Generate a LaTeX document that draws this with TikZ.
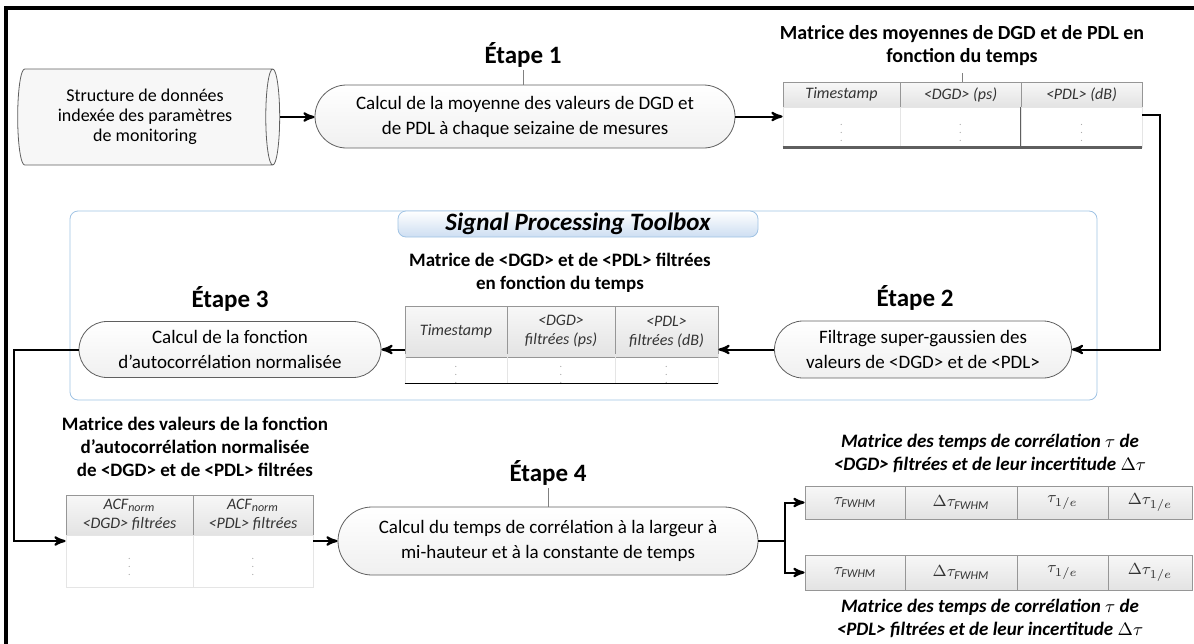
\documentclass[tikz,border=0pt]{standalone}
\usepackage{fontspec}
\setmainfont{Carlito}
\usepackage{tikz}
\usetikzlibrary{arrows}
\usetikzlibrary{shapes.geometric,shapes.misc}
\definecolor{boxline}{RGB}{95,95,95}
\definecolor{cellline}{RGB}{150,150,150}
\definecolor{tbxline}{RGB}{160,195,228}
\definecolor{tbxfill}{RGB}{205,222,242}
\tikzset{
  etape/.style={rounded rectangle, draw=boxline, top color=white, bottom color=gray!12, align=center, inner sep=0pt, font=\fontsize{9.5}{12.5}\selectfont},
  etapelabel/.style={font=\fontsize{12.5}{14}\selectfont\bfseries, inner sep=1pt},
  matlabel/.style={align=center, font=\fontsize{9.5}{11.5}\selectfont\bfseries},
  hcell/.style={draw=cellline, top color=gray!6, bottom color=gray!22, inner sep=0pt, align=center, font=\fontsize{8}{9.5}\selectfont\itshape, text=black!80},
  dcell/.style={draw=gray!20, inner sep=0pt, text=gray!70, font=\tiny},
  tabbox/.style={inner sep=0pt},
  arr/.style={line width=1pt, ->, >=stealth'}
}

\begin{document}
\begin{tikzpicture}[x=.5pt, y=-.5pt]
\useasboundingbox (0,0) rectangle (1194,643);
\draw[line width=2pt] (6,700) -- (6,8) -- (1260,8);

\node[draw=tbxline, rounded corners=4pt, minimum width=513.5pt, minimum height=94.5pt] (tbx) at (583.5,305.5) {};
\node[draw=tbxline, rounded corners=4pt, top color=white, bottom color=tbxfill, minimum width=180pt, minimum height=13pt, inner sep=0pt, font=\fontsize{12.5}{13}\selectfont\bfseries\itshape] (tbxtab) at (578,224) {Signal Processing Toolbox};

\node[cylinder, aspect=.25, draw=boxline, fill=gray!6, minimum width=48pt, minimum height=131pt, align=center, inner sep=0pt, font=\fontsize{9}{10}\selectfont] (src) at (145,117) {Structure de données\\indexée des paramètres\\de monitoring};

\node[etape, minimum width=210pt, minimum height=31.5pt] (e1) at (525,116.5) {Calcul de la moyenne des valeurs de DGD et\\de PDL à chaque seizaine de mesures};
\node[etapelabel] (lab1) at (523,55) {Étape 1};
\draw[gray] (lab1.south) -- (lab1.south |- e1.north);

\node[tabbox, minimum width=179.5pt, minimum height=32.5pt] (tab1) at (962.5,114.5) {};
\node[hcell, minimum width=58.5pt, minimum height=12.5pt] (t1h1) at (841.5,94.5) {Timestamp};
\node[hcell, minimum width=60.5pt, minimum height=12.5pt] (t1h2) at (960.5,94.5) {<DGD> (ps)};
\node[hcell, minimum width=60.5pt, minimum height=12.5pt] (t1h3) at (1081.5,94.5) {<PDL> (dB)};
\foreach \cx/\cw [count=\i] in {841.5/58.5pt,960.5/60.5pt,1081.5/60.5pt}
  \node[dcell, minimum width=\cw, minimum height=20pt] (t1d\i) at (\cx,127) {$\vdots$};
\draw[boxline, line width=.8pt] (t1d3.north west) -- (t1d3.south west);
\draw[boxline, line width=1.4pt] (tab1.south west) -- (tab1.south east);
\node[matlabel, font=\fontsize{10}{11.5}\selectfont\bfseries] (mat1) at (962,46) {Matrice des moyennes de DGD et de PDL en\\fonction du temps};
\draw[gray] (mat1.south) -- (mat1.south |- tab1.north);

\node[etape, minimum width=148.5pt, minimum height=28.5pt] (e2) at (923,349.5) {Filtrage super-gaussien des\\valeurs de <DGD> et de <PDL>};
\node[etapelabel] (lab2) at (915,298) {Étape 2};

\node[tabbox, minimum width=156.5pt, minimum height=37pt] (tab2) at (561.5,343) {};
\node[hcell, minimum width=51pt, minimum height=25.5pt] (t2h1) at (456,331.5) {Timestamp};
\node[hcell, minimum width=54pt, minimum height=25.5pt] (t2h2) at (561,331.5) {<DGD>\\filtrées (ps)};
\node[hcell, minimum width=51.5pt, minimum height=25.5pt] (t2h3) at (666.5,331.5) {<PDL>\\filtrées (dB)};
\foreach \cx/\cw [count=\i] in {456/51pt,561/54pt,666.5/51.5pt}
  \node[dcell, minimum width=\cw, minimum height=11.5pt] (t2d\i) at (\cx,368.5) {$\vdots$};
\draw[black, line width=.7pt] ([yshift=-1.5pt]tab2.south west) -- ([yshift=-1.5pt]tab2.south east);
\node[matlabel] (mat2) at (560,273) {Matrice de <DGD> et de <PDL> filtrées\\en fonction du temps};

\node[etape, minimum width=151pt, minimum height=28pt] (e3) at (230,349.5) {Calcul de la fonction\\d'autocorrélation normalisée};
\node[etapelabel] (lab3) at (230,299) {Étape 3};

\node[tabbox, minimum width=123.5pt, minimum height=46pt] (tab3) at (189.5,541) {};
\node[hcell, minimum width=63.5pt, minimum height=20pt] (t3h1) at (129.5,515) {ACF\textsubscript{norm}\\<DGD> filtrées};
\node[hcell, minimum width=60pt, minimum height=20pt] (t3h2) at (253,515) {ACF\textsubscript{norm}\\<PDL> filtrées};
\node[dcell, minimum width=63.5pt, minimum height=26pt] (t3d1) at (129.5,561) {$\vdots$};
\node[dcell, minimum width=60pt, minimum height=26pt] (t3d2) at (253,561) {$\vdots$};
\node[matlabel] (mat3) at (195,447) {Matrice des valeurs de la fonction\\d'autocorrélation normalisée\\de <DGD> et de <PDL> filtrées};

\node[etape, minimum width=210pt, minimum height=34pt] (e4) at (548,541) {Calcul du temps de corrélation à la largeur à\\mi-hauteur et à la constante de temps};
\node[etapelabel] (lab4) at (548,473) {Étape 4};
\draw[gray] (lab4.south) -- (lab4.south |- e4.north);

\node[tabbox, minimum width=193.5pt, minimum height=16.5pt] (tab4) at (998.5,502.5) {};
\node[tabbox, minimum width=193.5pt, minimum height=17.5pt] (tab5) at (998.5,572.5) {};
\foreach \ty/\th/\tn in {502.5/16.5pt/4,572.5/17.5pt/5} {
  \node[hcell, minimum width=50pt, minimum height=\th] (t\tn c1) at (855,\ty) {$\tau_{\mathit{FWHM}}$};
  \node[hcell, minimum width=56pt, minimum height=\th] (t\tn c2) at (961,\ty) {$\Delta\tau_{\mathit{FWHM}}$};
  \node[hcell, minimum width=45.5pt, minimum height=\th] (t\tn c3) at (1062.5,\ty) {$\tau_{1/e}$};
  \node[hcell, minimum width=42pt, minimum height=\th] (t\tn c4) at (1150,\ty) {$\Delta\tau_{1/e}$};
}
\node[matlabel, font=\fontsize{9.5}{11.5}\selectfont\bfseries\itshape] (mat4) at (990,453.5) {Matrice des temps de corrélation $\tau$ de\\<DGD> filtrées et de leur incertitude $\Delta\tau$};
\node[matlabel, font=\fontsize{9.5}{11.5}\selectfont\bfseries\itshape] (mat5) at (990,618.5) {Matrice des temps de corrélation $\tau$ de\\<PDL> filtrées et de leur incertitude $\Delta\tau$};
\coordinate (br) at (785,541);

\draw[arr] (src.east) -- (src.east -| e1.west);
\draw[arr] (e1.east) -- (e1.east -| tab1.west);
\draw[arr] (tab1.east) -- ++(18,0) |- (e2.east);
\draw[arr] (e2.west) -- (e2.west -| tab2.east);
\draw[arr] (e3.east -| tab2.west) -- (e3.east);
\draw[arr] (e3.west) -- ++(-65,0) |- (tab3.west);
\draw[arr] (e4.west -| tab3.east) -- (e4.west);
\draw[line width=1pt] (e4.east) -- (br);
\draw[arr] (br) |- (tab4.west);
\draw[arr] (br) |- (tab5.west);
\end{tikzpicture}
\end{document}
